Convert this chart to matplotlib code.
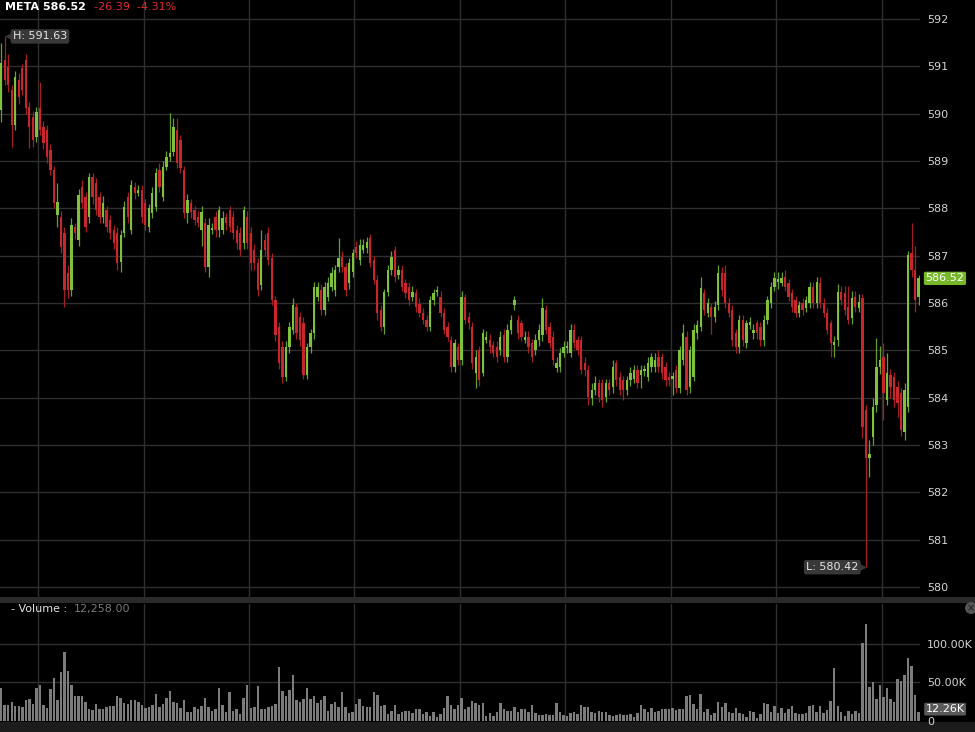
import numpy as np
import matplotlib.pyplot as plt
from matplotlib.patches import Rectangle, Ellipse
from matplotlib.transforms import blended_transform_factory

# === DATI (candele da 1 minuto) ===
opens = [
    590.08, 591.13, 590.99, 590.50, 589.76, 590.71, 590.97, 591.13, 590.14, 589.93,
    589.51, 590.12, 589.72, 589.66, 589.23, 588.81, 587.86, 587.82, 587.48, 586.63,
    586.27, 587.61, 587.33, 588.45, 588.24, 587.82, 588.66, 588.53, 588.24, 587.82,
    587.96, 587.75, 587.54, 587.48, 586.86, 587.48, 588.24, 587.54, 588.45, 588.32,
    588.39, 588.11, 587.61, 587.90, 588.03, 588.81, 588.24, 588.87, 589.08, 589.19,
    589.66, 589.44, 588.81, 587.90, 588.11, 587.96, 587.82, 587.54, 587.69, 586.76,
    587.54, 587.82, 587.54, 587.54, 587.82, 587.96, 587.82, 587.54, 587.48, 587.27,
    587.82, 587.48, 587.12, 586.84, 586.38, 587.33, 587.48, 586.95, 586.06, 585.49,
    585.07, 584.44, 585.07, 585.43, 585.91, 585.70, 585.57, 584.48, 585.07, 585.36,
    586.13, 586.27, 585.85, 586.13, 586.34, 586.27, 586.76, 586.97, 586.76, 586.42,
    586.65, 587.18, 586.91, 587.12, 587.16, 587.37, 586.91, 586.49, 585.85, 585.49,
    586.23, 586.70, 587.12, 586.59, 586.70, 586.42, 586.34, 586.13, 586.21, 585.98,
    585.79, 585.64, 585.49, 586.06, 586.23, 586.13, 585.79, 585.49, 585.22, 584.65,
    585.07, 584.80, 586.13, 585.70, 585.49, 584.52, 585.01, 584.52, 585.22, 585.22,
    585.11, 585.07, 585.01, 585.32, 584.86, 585.43, 585.96, 585.64, 585.57, 585.22,
    585.28, 585.15, 585.01, 585.22, 585.32, 585.85, 585.49, 585.28, 584.63, 584.65,
    584.94, 585.05, 584.94, 585.43, 585.22, 585.22, 584.73, 584.58, 583.99, 584.16,
    584.31, 584.31, 584.01, 584.31, 584.22, 584.73, 584.44, 584.37, 584.16, 584.37,
    584.40, 584.58, 584.48, 584.56, 584.44, 584.65, 584.65, 584.86, 584.86, 584.65,
    584.44, 584.40, 584.58, 584.20, 584.80, 585.28, 584.22, 584.44, 585.36, 585.49,
    586.21, 585.79, 585.91, 585.70, 585.96, 586.63, 586.63, 586.00, 585.85, 585.36,
    585.07, 585.64, 585.15, 585.53, 585.36, 585.57, 585.49, 585.22, 585.64, 586.00,
    586.34, 586.44, 586.42, 586.55, 586.42, 586.21, 586.06, 585.79, 586.00, 585.89,
    586.00, 586.34, 586.00, 586.42, 586.00, 585.79, 585.57, 585.11, 585.22, 586.23,
    586.21, 585.91, 585.68, 586.13, 585.89, 586.11, 583.74, 582.72, 583.17, 583.84,
    584.65, 584.86, 583.95, 584.48, 584.44, 584.22, 584.10, 583.27, 583.80, 587.05,
    586.70, 586.13,
]
highs = [
    591.49, 591.63, 591.25, 590.60, 590.90, 590.85, 591.05, 591.25, 590.25, 590.05,
    590.15, 590.67, 589.85, 589.75, 589.35, 588.90, 588.53, 587.95, 587.60, 586.80,
    587.80, 587.70, 588.40, 588.60, 588.35, 588.75, 588.75, 588.65, 588.35, 588.25,
    588.05, 587.85, 587.65, 587.60, 587.55, 588.15, 588.35, 588.60, 588.55, 588.50,
    588.50, 588.20, 588.10, 588.45, 588.85, 588.95, 589.00, 589.20, 590.01, 589.90,
    589.90, 589.55, 588.90, 588.30, 588.20, 588.05, 587.95, 588.05, 587.80, 587.80,
    587.70, 587.95, 588.05, 587.95, 587.90, 588.05, 587.95, 587.65, 587.60, 588.05,
    587.95, 587.60, 587.25, 586.95, 587.54, 587.45, 587.60, 587.05, 586.15, 585.60,
    585.20, 585.20, 585.60, 586.10, 586.00, 585.80, 585.70, 585.15, 585.45, 586.45,
    586.45, 586.40, 586.45, 586.55, 586.75, 586.80, 587.37, 587.10, 586.85, 586.95,
    587.15, 587.30, 587.35, 587.35, 587.40, 587.45, 587.00, 586.60, 585.95, 586.30,
    586.80, 587.10, 587.20, 586.80, 586.80, 586.50, 586.45, 586.35, 586.30, 586.10,
    585.90, 585.75, 586.15, 586.30, 586.35, 586.25, 585.90, 585.60, 585.30, 585.25,
    585.15, 586.25, 586.20, 585.80, 585.60, 585.00, 585.10, 585.45, 585.40, 585.35,
    585.20, 585.20, 585.40, 585.45, 585.55, 585.75, 586.15, 585.75, 585.65, 585.40,
    585.40, 585.25, 585.35, 585.55, 586.10, 585.95, 585.60, 585.40, 584.85, 585.05,
    585.20, 585.20, 585.55, 585.55, 585.30, 585.30, 584.85, 584.70, 584.30, 584.45,
    584.40, 584.40, 584.40, 584.40, 584.80, 584.80, 584.55, 584.45, 584.45, 584.65,
    584.70, 584.70, 584.70, 584.70, 584.85, 584.95, 584.95, 585.00, 584.95, 584.75,
    584.55, 584.55, 584.70, 585.10, 585.55, 585.40, 585.10, 585.55, 585.65, 586.55,
    586.30, 586.10, 586.00, 586.05, 586.80, 586.75, 586.80, 586.10, 585.95, 585.45,
    585.75, 585.75, 585.65, 585.70, 585.55, 585.65, 585.60, 585.75, 586.15, 586.45,
    586.65, 586.65, 586.65, 586.70, 586.50, 586.30, 586.15, 586.05, 586.10, 586.15,
    586.45, 586.45, 586.55, 586.55, 586.10, 585.90, 585.65, 585.30, 586.40, 586.35,
    586.35, 586.35, 586.25, 586.25, 586.20, 586.20, 583.85, 583.10, 584.00, 585.26,
    585.10, 585.15, 584.95, 584.60, 584.55, 584.35, 584.20, 584.30, 587.10, 587.70,
    587.20, 586.60,
]
lows = [
    589.82, 590.60, 590.45, 589.30, 589.65, 590.20, 590.40, 590.00, 589.28, 589.30,
    589.40, 589.55, 589.25, 588.95, 588.70, 588.00, 587.61, 587.05, 585.91, 586.10,
    586.15, 587.35, 587.20, 588.00, 587.50, 587.70, 588.10, 587.85, 587.70, 587.70,
    587.50, 587.35, 587.15, 586.70, 586.66, 587.40, 587.70, 587.45, 588.20, 588.25,
    587.70, 587.55, 587.50, 587.80, 587.95, 588.35, 588.15, 588.80, 589.00, 589.10,
    588.85, 588.75, 587.80, 587.70, 587.80, 587.65, 587.60, 587.20, 586.65, 586.55,
    587.45, 587.40, 587.40, 587.45, 587.55, 587.50, 587.35, 587.15, 587.00, 587.15,
    587.15, 586.70, 586.70, 586.15, 586.27, 587.00, 586.80, 585.95, 585.20, 584.60,
    584.31, 584.35, 584.95, 585.35, 585.25, 585.10, 584.40, 584.40, 584.95, 585.25,
    586.05, 585.75, 585.75, 586.05, 586.25, 586.15, 586.65, 586.65, 586.15, 586.30,
    586.55, 586.95, 586.80, 587.05, 587.05, 586.75, 586.40, 585.65, 585.40, 585.35,
    586.15, 586.60, 586.45, 586.50, 586.25, 586.10, 585.95, 586.05, 585.80, 585.70,
    585.55, 585.40, 585.40, 585.95, 586.15, 585.70, 585.35, 585.20, 584.55, 584.55,
    584.70, 584.70, 585.55, 585.45, 584.60, 584.20, 584.25, 584.45, 585.15, 584.95,
    584.85, 584.75, 584.90, 584.75, 584.75, 585.35, 585.85, 585.25, 585.20, 585.15,
    584.95, 584.75, 584.90, 585.10, 585.20, 585.35, 585.05, 584.70, 584.55, 584.55,
    584.85, 584.95, 584.85, 585.05, 584.90, 584.50, 584.45, 583.85, 583.85, 584.05,
    583.90, 583.80, 583.90, 584.05, 584.10, 584.25, 584.05, 583.95, 584.05, 584.25,
    584.30, 584.20, 584.20, 584.45, 584.35, 584.55, 584.55, 584.55, 584.40, 584.25,
    584.25, 584.05, 584.10, 584.10, 584.70, 584.05, 584.10, 584.35, 585.25, 585.40,
    585.75, 585.70, 585.35, 585.60, 585.85, 586.15, 585.90, 585.70, 585.10, 584.95,
    584.95, 585.10, 585.05, 585.45, 585.25, 585.25, 585.10, 585.10, 585.55, 585.90,
    586.25, 586.30, 586.35, 586.25, 586.05, 585.80, 585.70, 585.70, 585.75, 585.80,
    585.90, 585.90, 585.90, 585.90, 585.70, 585.35, 584.85, 584.85, 585.10, 585.95,
    585.75, 585.55, 585.55, 585.80, 585.80, 583.15, 580.42, 582.32, 583.00, 583.70,
    584.50, 583.53, 583.85, 584.00, 583.80, 583.60, 583.20, 583.10, 583.70, 586.55,
    585.80, 585.95,
]
closes = [
    591.07, 590.71, 590.61, 589.76, 590.77, 590.35, 590.50, 590.12, 589.72, 589.44,
    590.03, 589.66, 589.38, 589.08, 588.81, 588.11, 588.13, 587.18, 586.27, 586.27,
    587.65, 587.48, 588.28, 588.11, 587.61, 588.66, 588.24, 587.96, 587.82, 588.11,
    587.61, 587.48, 587.27, 586.84, 587.44, 588.03, 587.82, 588.49, 588.32, 588.39,
    587.82, 587.65, 588.01, 588.32, 588.75, 588.45, 588.87, 589.08, 589.17, 589.72,
    588.96, 588.85, 587.90, 588.18, 587.92, 587.75, 587.69, 587.92, 586.76, 587.65,
    587.58, 587.54, 587.96, 587.79, 587.69, 587.61, 587.48, 587.27, 587.12, 587.96,
    587.27, 586.84, 586.84, 586.27, 587.12, 587.12, 586.91, 586.06, 585.32, 584.73,
    584.44, 585.07, 585.49, 585.96, 585.36, 585.22, 584.48, 585.07, 585.36, 586.34,
    586.34, 585.85, 586.34, 586.42, 586.63, 586.70, 586.95, 586.76, 586.27, 586.84,
    587.05, 587.05, 587.22, 587.22, 587.29, 586.84, 586.49, 585.79, 585.49, 586.23,
    586.70, 586.97, 586.55, 586.70, 586.34, 586.21, 586.06, 586.23, 585.91, 585.79,
    585.64, 585.49, 586.06, 586.21, 586.27, 585.79, 585.43, 585.28, 584.65, 585.15,
    584.80, 586.13, 585.64, 585.57, 584.73, 584.86, 584.37, 585.36, 585.28, 585.07,
    584.94, 584.86, 585.28, 584.86, 585.43, 585.64, 586.06, 585.36, 585.28, 585.28,
    585.07, 584.86, 585.22, 585.43, 585.89, 585.43, 585.15, 584.80, 584.73, 584.94,
    585.07, 585.09, 585.43, 585.15, 585.01, 584.58, 584.58, 584.01, 584.16, 584.31,
    584.01, 583.95, 584.31, 584.16, 584.65, 584.37, 584.16, 584.16, 584.37, 584.52,
    584.58, 584.31, 584.58, 584.60, 584.73, 584.86, 584.80, 584.65, 584.52, 584.37,
    584.37, 584.46, 584.20, 585.01, 585.36, 584.16, 585.01, 585.43, 585.53, 586.32,
    585.85, 586.00, 585.70, 585.91, 586.63, 586.27, 586.00, 585.79, 585.22, 585.07,
    585.64, 585.22, 585.57, 585.60, 585.43, 585.36, 585.22, 585.64, 586.06, 586.34,
    586.53, 586.51, 586.53, 586.34, 586.13, 585.91, 585.79, 585.96, 585.85, 586.06,
    586.34, 586.00, 586.44, 586.00, 585.79, 585.43, 585.15, 585.18, 586.23, 586.06,
    585.85, 585.64, 586.11, 585.91, 586.02, 583.38, 582.72, 582.82, 583.80, 584.65,
    584.80, 584.10, 584.52, 584.22, 583.95, 583.88, 583.32, 584.16, 587.01, 586.70,
    586.06, 586.52,
]
# volume in migliaia
vol_k = [
    42, 21, 21, 24, 20, 20, 18, 27, 28, 22,
    43, 47, 21, 17, 41, 55, 27, 63, 89, 65,
    47, 32, 32, 32, 24, 16, 14, 22, 16, 16,
    18, 20, 20, 32, 30, 23, 22, 27, 27, 25,
    21, 17, 18, 21, 35, 18, 22, 30, 39, 24,
    23, 17, 27, 11, 11, 18, 16, 20, 30, 18,
    13, 16, 43, 21, 11, 37, 13, 15, 9, 30,
    47, 17, 18, 45, 16, 16, 18, 20, 22, 70,
    39, 32, 40, 59, 27, 24, 29, 43, 29, 32,
    23, 27, 32, 13, 22, 24, 18, 37, 18, 10,
    12, 22, 28, 19, 18, 18, 37, 34, 20, 21,
    9, 13, 21, 9, 11, 13, 13, 10, 16, 15,
    9, 11, 6, 11, 5, 9, 17, 32, 21, 16,
    21, 30, 16, 18, 26, 23, 21,
    23, 6, 10, 7, 11, 23, 15, 13, 13, 18,
    11, 15, 15, 11, 21, 10, 8, 8, 9, 8,
    8, 23, 12, 8, 6, 10, 12, 9, 21, 18,
    18, 11, 10, 13, 11, 11, 8, 6, 8, 9,
    8, 8, 9, 5, 10, 21, 15, 11, 17, 12,
    13, 15, 15, 15, 17, 14, 15, 15, 32, 34,
    22, 16, 35, 12, 15, 8, 10, 24, 18, 23,
    11, 10, 17, 10, 9, 5, 13, 12, 4, 9,
    23, 22, 12, 20, 10,
    17, 10, 15, 20, 10, 9, 9, 10, 20, 21,
    11, 20, 10, 14, 26, 69, 19, 12, 7, 13,
    9, 13, 10, 101, 125, 44, 50, 28, 47, 31,
    42, 28, 25, 54, 51, 59, 81, 71, 33, 12.258,
]
price_ticks = list(range(580, 593))
vol_ticks = [0, 50, 100]
vol_tick_labels = ["0", "50.00K", "100.00K"]
symbol = "META 586.52"
change_text = "-26.39  -4.31%"
last_price = 586.52
high_price, high_idx = 591.63, 1
low_price, low_idx = 580.42, 246

# === STILE ===
W, H = 975, 732
BG = "black"
GRID = "#2f2f2f"
UP = "#80c13c"
DOWN = "#c8262a"
UP_WICK = "#63a02c"
DOWN_WICK = "#a31f23"
TXT = "#d4d4d4"

n = len(closes)
idx = np.arange(n)
o = np.array(opens)
c = np.array(closes)
up = c >= o

fig = plt.figure(figsize=(W / 100, H / 100), dpi=100, facecolor=BG)


def px_rect(left, top, right, bottom):
    return [left / W, 1 - bottom / H, (right - left) / W, (bottom - top) / H]


ax = fig.add_axes(px_rect(0, 0, 920, 597))
axv = fig.add_axes(px_rect(0, 604, 920, 721))

for a in (ax, axv):
    a.set_facecolor(BG)
    for s in a.spines.values():
        s.set_visible(False)
    a.set_xlim(-0.34, n - 0.6)
    a.set_xticks([])
    a.yaxis.tick_right()
    a.tick_params(axis="y", length=0, pad=5, labelsize=8, labelcolor=TXT)
    # linee verticali ogni 30 minuti
    for gx in np.arange(10.5, n, 30):
        a.axvline(gx, color=GRID, lw=1, zorder=0)

# === PREZZO ===
ax.set_ylim(579.79, 592.40)
ax.set_yticks(price_ticks)
for p in price_ticks:
    ax.axhline(p, color=GRID, lw=1, zorder=0)

ax.vlines(idx, lows, highs, colors=np.where(up, UP_WICK, DOWN_WICK), lw=0.9, zorder=2)
body_lo = np.minimum(o, c)
body_h = np.maximum(np.abs(c - o), 0.025)
ax.bar(idx, body_h, bottom=body_lo, width=0.66, color=np.where(up, UP, DOWN), lw=0, zorder=3)

blend = blended_transform_factory(ax.transAxes, ax.transData)
ax.text(1.006, last_price, f"{last_price:.2f}", transform=blend, ha="left", va="center",
        fontsize=8, color="white",
        bbox=dict(boxstyle="round,pad=0.15", fc="#76b82a", ec="none"))

ax.text(high_idx + 2.3, high_price, f"H: {high_price:.2f}", ha="left", va="center",
        fontsize=8, color="#e6e6e6", zorder=5,
        bbox=dict(boxstyle="round,pad=0.2", fc="#383838", ec="none"))
ax.plot(high_idx + 1.3, high_price, marker="<", ms=4, color="#383838", zorder=5)

ax.text(low_idx - 2.1, low_price, f"L: {low_price:.2f}", ha="right", va="center",
        fontsize=8, color="#e6e6e6", zorder=5,
        bbox=dict(boxstyle="round,pad=0.2", fc="#383838", ec="none"))
ax.plot(low_idx - 1.2, low_price, marker=">", ms=4, color="#383838", zorder=5)

# === VOLUME ===
axv.set_ylim(0, 151)
axv.set_yticks(vol_ticks)
axv.set_yticklabels(vol_tick_labels)
for v in vol_ticks[1:]:
    axv.axhline(v, color=GRID, lw=1, zorder=0)
axv.bar(idx, vol_k, width=0.7, color="#7c7c7c", lw=0, zorder=2)

vblend = blended_transform_factory(axv.transAxes, axv.transData)
axv.text(1.006, vol_k[-1] + 3, f"{vol_k[-1]:.2f}K", transform=vblend, ha="left", va="center",
         fontsize=8, color="white",
         bbox=dict(boxstyle="round,pad=0.12", fc="#5a5a5a", ec="none"))

# === INTESTAZIONI E BANDE ===
fig.patches.append(Rectangle((0, 1 - 603 / H), 1, 6 / H, transform=fig.transFigure,
                             fc="#2a2a2a", ec="none", zorder=-1))
fig.patches.append(Rectangle((0, 0), 1, 10 / H, transform=fig.transFigure,
                             fc="#1c1c1c", ec="none", zorder=-1))

fig.text(5 / W, 1 - 9.5 / H, symbol, color="white", fontsize=8, fontweight="bold", va="baseline")
fig.text(94 / W, 1 - 9.5 / H, change_text, color="#e0282e", fontsize=8, va="baseline")

fig.text(11 / W, 1 - 609 / H, "- Volume :", color="#e0e0e0", fontsize=8, va="center")
fig.text(74 / W, 1 - 609 / H, f"{vol_k[-1] * 1000:,.2f}", color="#7a7a7a", fontsize=8, va="center")

fig.patches.append(Ellipse((971 / W, 1 - 608 / H), 12 / W, 12 / H, transform=fig.transFigure,
                           fc="#555555", ec="none"))
fig.text(971 / W, 1 - 608 / H, "×", color="#1a1a1a", fontsize=7, ha="center", va="center")

fig.savefig("out.png", dpi=100, facecolor=BG)
